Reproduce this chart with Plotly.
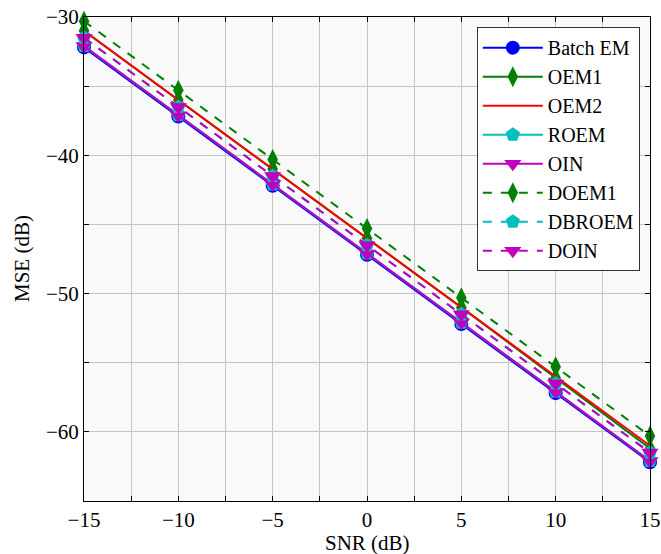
import plotly.graph_objects as go

snr = [-15, -10, -5, 0, 5, 10, 15]
batch_em = [-32.2, -37.2, -42.2, -47.2, -52.2, -57.2, -62.2]
oem1 = [-31.0, -36.0, -41.0, -46.0, -51.0, -56.1, -61.2]
oem2 = [-31.0, -36.0, -41.0, -46.0, -51.0, -56.0, -61.0]
roem = [-32.1, -37.1, -42.1, -47.1, -52.1, -57.1, -62.1]
oin = [-32.1, -37.1, -42.1, -47.1, -52.1, -57.1, -62.1]
doem1 = [-30.3, -35.3, -40.3, -45.3, -50.3, -55.3, -60.3]
dbroem = [-31.5, -36.5, -41.5, -46.5, -51.5, -56.5, -61.5]
doin = [-31.5, -36.5, -41.5, -46.5, -51.5, -56.5, -61.5]

series = [
    ("Batch EM", batch_em, "#0000ff", "solid", "circle", 14),
    ("OEM1", oem1, "#008000", "solid", "diamond-tall", 15),
    ("OEM2", oem2, "#ff0000", "solid", None, 0),
    ("ROEM", roem, "#00bfbf", "solid", "pentagon", 15),
    ("OIN", oin, "#bf00bf", "solid", "triangle-down", 15),
    ("DOEM1", doem1, "#008000", "dash", "diamond-tall", 15),
    ("DBROEM", dbroem, "#00bfbf", "dash", "pentagon", 15),
    ("DOIN", doin, "#bf00bf", "dash", "triangle-down", 15),
]

fig = go.Figure()
for name, ys, color, dash, sym, size in series:
    if sym is None:
        fig.add_trace(go.Scatter(x=snr, y=ys, name=name, mode="lines",
                                 cliponaxis=False,
                                 line=dict(color=color, width=2, dash=dash)))
    else:
        fig.add_trace(go.Scatter(x=snr, y=ys, name=name, mode="lines+markers",
                                 cliponaxis=False,
                                 line=dict(color=color, width=2, dash=dash),
                                 marker=dict(symbol=sym, size=size, color=color,
                                             line=dict(width=0))))

font_family = "Liberation Serif"
fs = 21
grid_col = "#c4c4c4"
axis_common = dict(
    showline=True, linecolor="black", linewidth=1, mirror="ticks",
    ticks="inside", ticklen=5, tickcolor="black",
    showgrid=True, gridcolor=grid_col, gridwidth=1, zeroline=False,
    automargin=False,
    tickfont=dict(family=font_family, size=fs, color="black"),
)

fig.update_xaxes(
    range=[-15, 15], dtick=5, tick0=0,
    minor=dict(dtick=2.5, showgrid=True, gridcolor=grid_col, ticks="inside",
               ticklen=5, tickcolor="black"),
    **axis_common,
)
fig.update_yaxes(
    range=[-65, -30], dtick=10, tick0=0,
    minor=dict(dtick=5, showgrid=True, gridcolor=grid_col, ticks="inside",
               ticklen=5, tickcolor="black"),
    **axis_common,
)

fig.add_annotation(text="SNR (dB)", xref="paper", yref="paper", x=0.5, y=0,
                   xanchor="center", yanchor="middle", yshift=-42, showarrow=False,
                   font=dict(family=font_family, size=fs, color="black"))
fig.add_annotation(text="MSE (dB)", xref="paper", yref="paper", x=0, y=0.5,
                   xanchor="center", yanchor="middle", xshift=-62, textangle=-90,
                   showarrow=False,
                   font=dict(family=font_family, size=fs, color="black"))

fig.update_layout(
    width=661, height=554,
    margin=dict(l=84, r=11, t=17, b=53),
    paper_bgcolor="white",
    plot_bgcolor="#f9f9f9",
    font=dict(family=font_family, size=fs, color="black"),
    legend=dict(
        x=0.982, y=0.979, xanchor="right", yanchor="top",
        bgcolor="white", bordercolor="#333333", borderwidth=1,
        font=dict(family=font_family, size=20, color="black"),
        tracegroupgap=0, itemwidth=60,
    ),
    showlegend=True,
)

fig.write_html("out.html", config={"displayModeBar": False},
               post_script="document.body.style.margin='0px';")
